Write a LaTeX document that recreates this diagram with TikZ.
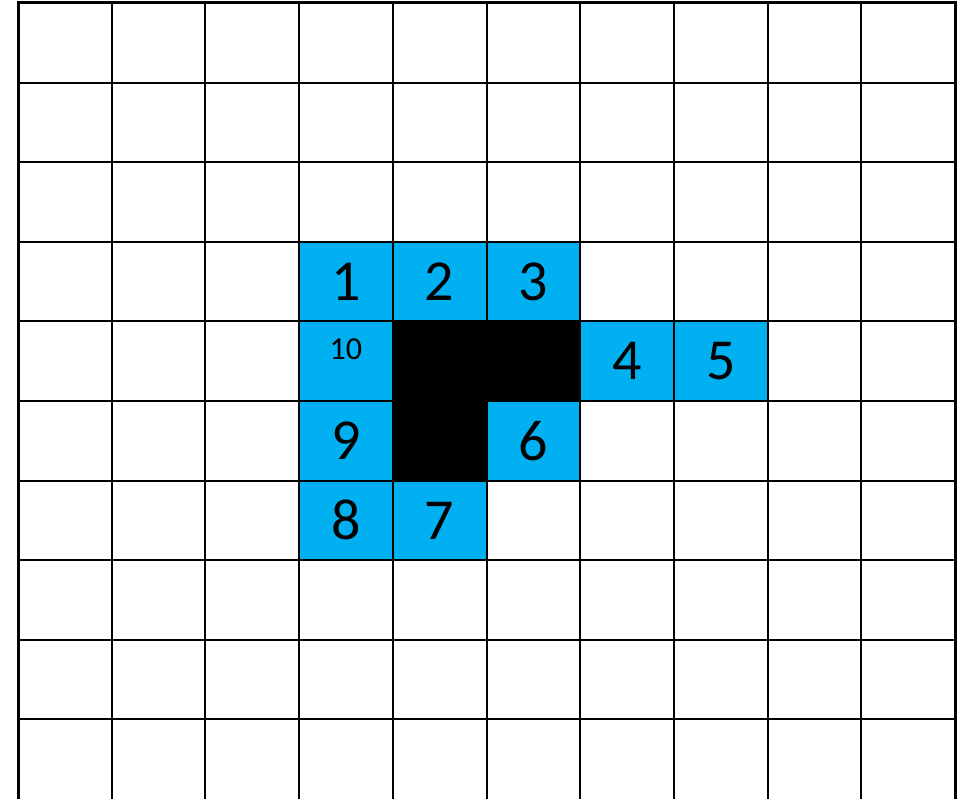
\documentclass[tikz,border=0pt]{standalone}
\usepackage{fontspec}
\setmainfont{Carlito}
\definecolor{cellblue}{HTML}{00B0F0}
\begin{document}
\begin{tikzpicture}[x=1pt,y=-1pt,
  gridline/.style={draw=black,line width=2pt},
  frameline/.style={draw=black,line width=3pt},
  numlabel/.style={font=\fontsize{58}{60}\selectfont,inner sep=0pt},
  smalllabel/.style={font=\fontsize{32}{34}\selectfont,inner sep=0pt}]
\def\cw{93.7}
\def\rh{79.6}
\useasboundingbox (0,0) rectangle (958,799);
\fill[white] (0,0) rectangle (958,799);
% blue cells
\foreach \c/\r in {3/3,4/3,5/3,3/4,6/4,7/4,3/5,5/5,3/6,4/6}
  \fill[cellblue] ({18+\c*\cw},{3+\r*\rh}) rectangle ++(\cw,\rh);
% black cells
\foreach \c/\r in {4/4,5/4,4/5}
  \fill[black] ({18+\c*\cw},{3+\r*\rh}) rectangle ++(\cw,\rh);
% grid
\foreach \i in {1,...,9}
  \draw[gridline] ({18+\i*\cw},3) -- ({18+\i*\cw},799);
\foreach \j in {1,...,9}
  \draw[gridline] (18,{3+\j*\rh}) -- (955,{3+\j*\rh});
\draw[frameline] (18,799) -- (18,3) -- (955,3) -- (955,799);
% labels
\node[numlabel] (n1) at ({18+3.5*\cw},{3+3.5*\rh}) {1};
\node[numlabel] (n2) at ({18+4.5*\cw},{3+3.5*\rh}) {2};
\node[numlabel] (n3) at ({18+5.5*\cw},{3+3.5*\rh}) {3};
\node[numlabel] (n4) at ({18+6.5*\cw},{3+4.5*\rh}) {4};
\node[numlabel] (n5) at ({18+7.5*\cw},{3+4.5*\rh}) {5};
\node[numlabel] (n6) at ({18+5.5*\cw},{3+5.5*\rh}) {6};
\node[numlabel] (n7) at ({18+4.5*\cw},{3+6.5*\rh}) {7};
\node[numlabel] (n8) at ({18+3.5*\cw},{3+6.5*\rh}) {8};
\node[numlabel] (n9) at ({18+3.5*\cw},{3+5.5*\rh}) {9};
\node[smalllabel] (n10) at ({18+3.5*\cw},349) {10};
\end{tikzpicture}
\end{document}
